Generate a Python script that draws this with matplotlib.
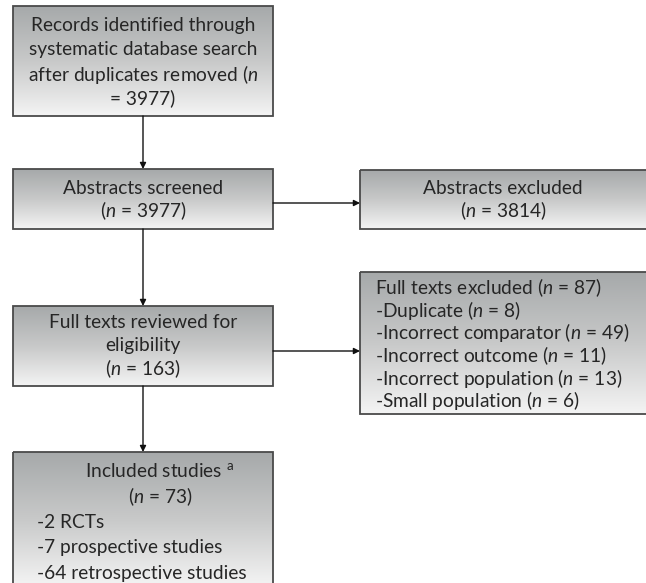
import matplotlib
matplotlib.use("Agg")
import matplotlib.pyplot as plt
import numpy as np
from matplotlib.patches import Rectangle
from matplotlib.colors import LinearSegmentedColormap

plt.rcParams['font.family'] = ['Lato', 'DejaVu Sans']
plt.rcParams['mathtext.fontset'] = 'custom'
plt.rcParams['mathtext.rm'] = 'Lato'
plt.rcParams['mathtext.it'] = 'Lato:italic'

N = r"$n$"

# Box texts
box1_lines = ["Records identified through", "systematic database search",
              "after duplicates removed (" + N, "= 3977)"]
box2_lines = ["Abstracts screened", "(" + N + " = 3977)"]
box3_lines = ["Abstracts excluded", "(" + N + " = 3814)"]
box4_lines = ["Full texts reviewed for", "eligibility", "(" + N + " = 163)"]
box5_lines = ["Full texts excluded (" + N + " = 87)",
              "-Duplicate (" + N + " = 8)",
              "-Incorrect comparator (" + N + " = 49)",
              "-Incorrect outcome (" + N + " = 11)",
              "-Incorrect population (" + N + " = 13)",
              "-Small population (" + N + " = 6)"]
box6_head = ["Included studies $^{\\rm a}$", "(" + N + " = 73)"]
box6_list = ["-2 RCTs", "-7 prospective studies", "-64 retrospective studies"]

W, H = 646, 583
fig = plt.figure(figsize=(W / 100, H / 100), dpi=100)
ax = fig.add_axes([0, 0, 1, 1])
ax.set_xlim(0, W)
ax.set_ylim(H, 0)
ax.axis('off')

grad = np.linspace(0, 1, 256).reshape(-1, 1)
cmap = LinearSegmentedColormap.from_list('g', ['#a6a9aa', '#c8c9c9', '#f4f4f4'])


def box(x0, y0, x1, y1):
    im = ax.imshow(grad, cmap=cmap, extent=(x0, x1, y1, y0), aspect='auto',
                   zorder=1, interpolation='bilinear')
    r = Rectangle((x0, y0), x1 - x0, y1 - y0, fill=False, edgecolor='#4a4a4a',
                  lw=1.3, zorder=3)
    ax.add_patch(r)
    im.set_clip_path(r)


FS = 13.8
TC = '#262626'


def lines(xc, ys, texts, ha='center'):
    for y, t in zip(ys, texts):
        ax.text(xc, y, t, ha=ha, va='center', fontsize=FS, color=TC, zorder=4)


def arrow(x0, y0, x1, y1):
    ax.annotate('', xy=(x1, y1), xytext=(x0, y0),
                arrowprops=dict(arrowstyle='-|>', color='#111111', lw=1.0,
                                mutation_scale=9, shrinkA=0, shrinkB=0),
                zorder=5)


box(13, 6, 273, 116)
lines(143, [25, 49, 74, 98], box1_lines)

box(13, 169, 273, 229)
lines(143, [188, 211], box2_lines)

box(360, 170, 648, 229)
lines(503, [188, 211], box3_lines)

box(13, 306, 273, 386)
lines(143, [323, 346, 369], box4_lines)

box(360, 272, 648, 414)
lines(375, [288, 310.5, 333, 355.5, 378, 400.5], box5_lines, ha='left')

box(13, 452, 273, 586)
lines(160, [471, 497], box6_head)
lines(37, [523, 548, 573], box6_list, ha='left')

arrow(143, 116, 143, 169)
arrow(143, 229, 143, 306)
arrow(143, 386, 143, 452)
arrow(273, 203, 360, 203)
arrow(273, 351, 360, 351)

fig.savefig('out.png', dpi=100)
